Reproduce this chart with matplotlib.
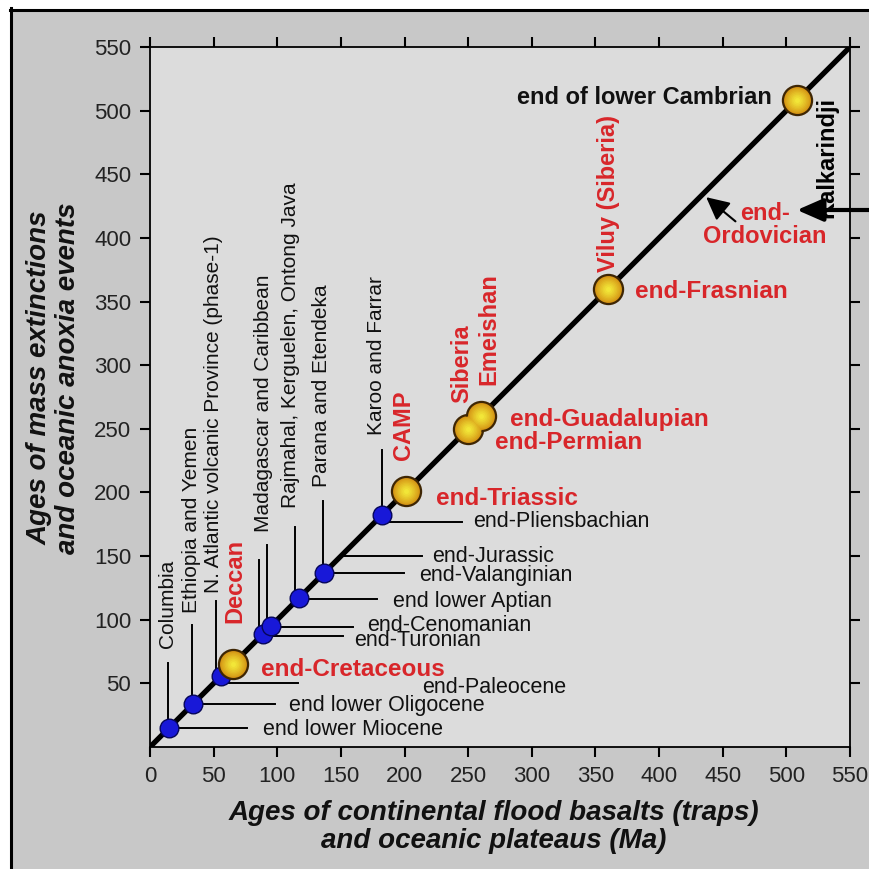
import numpy as np
import matplotlib
matplotlib.use("Agg")
import matplotlib.pyplot as plt
from matplotlib.lines import Line2D
from matplotlib.patches import Rectangle
from matplotlib.colors import to_rgb

plt.rcParams['font.family'] = ['Liberation Sans', 'DejaVu Sans']

RED = '#d8262a'

# trap ages that line up with extinction / anoxia events (Ma), blue = minor, gold = major
blue_ages = [15, 34, 56, 89, 95, 117, 137, 182]
gold_ages = [65, 201, 250, 260, 360, 508]

# flood basalt names (vertical labels)
trap_names = ['Columbia', 'Ethiopia and Yemen', 'N. Atlantic volcanic Province (phase-1)',
              'Madagascar and Caribbean', 'Rajmahal, Kerguelen, Ontong Java',
              'Parana and Etendeka', 'Karoo and Farrar']
trap_leader_from = [15, 34, 56, 89, 95, 117, 137, 182]
big_trap_names = ['Deccan', 'CAMP', 'Siberia', 'Emeishan', 'Viluy (Siberia)', 'Kalkarindji']

# extinction events (horizontal labels) and the age their leader sits at
ext_names = ['end lower Miocene', 'end lower Oligocene', 'end-Paleocene', 'end-Turonian',
             'end-Cenomanian', 'end lower Aptian', 'end-Valanginian', 'end-Jurassic',
             'end-Pliensbachian']
ext_ages = [15, 34, 50, 87, 94, 116, 137, 150, 177]
ext_from = [15, 34, 60, 89, 95, 117, 137, 150, 182]
big_ext_names = ['end-Cretaceous', 'end-Triassic', 'end-Permian', 'end-Guadalupian', 'end-Frasnian']
ordovician_age = 435

# ---- layout ----
trap_label_x = [14, 32.5, 50, 89, 110, 135, 178]
trap_label_y = [78, 105, 121, 169, 188, 204.5, 245]
leader_dx = [-1, -1, -4, -3, -3, -3, -1, 0]
leader_top = [66, 96, 115, 147, 159, 173, 193, 233]
big_trap_x = [66.8, 199, 245, 266, 360, 532]
big_trap_y = [97.4, 225.5, 270, 284.4, 373, 415.6]
big_trap_col = [RED, RED, RED, RED, RED, 'black']
ext_leader_end = [76, 98, 116, 151.6, 159.5, 178, 199.6, 213.5, 245]
ext_label_x = [89, 109.5, 213.5, 160.3, 170.5, 190.7, 211.6, 221.3, 253.8]
ext_label_y = [13.4, 33, 46.4, 84.0, 95.5, 114.7, 135, 150, 176.8]
big_ext_x = [87, 225, 271, 283, 381]
big_ext_y = [60.5, 195.6, 238.9, 257, 357.5]

fig = plt.figure(figsize=(8.7, 8.69), dpi=100)
fig.set_facecolor('#c8c8c8')
ax = fig.add_axes([150/870, 1-747/869, 700/870, 700/869])
ax.set_facecolor('#dcdcdc')
ax.set_xlim(0, 550)
ax.set_ylim(0, 550)
ax.set_xticks(np.arange(0, 551, 50))
ax.set_yticks(np.arange(50, 551, 50))
ax.tick_params(direction='out', length=7.5, width=1.5, top=True, right=True,
               labelsize=16, pad=6, labelcolor='#222222')
for sp in ax.spines.values():
    sp.set_linewidth(1.3)

# 1:1 line
ax.plot([0, 550], [0, 550], color='black', lw=3.8, zorder=3, solid_capstyle='butt')

# vertical leaders from the small points
for a, dx, top in zip(trap_leader_from, leader_dx, leader_top):
    ax.plot([a + dx, a + dx], [a, top], color='black', lw=1.4, zorder=2)
# horizontal leaders
for a0, y, x1 in zip(ext_from, ext_ages, ext_leader_end):
    ax.plot([a0, x1], [y, y], color='black', lw=1.4, zorder=2)

# points
ax.scatter(blue_ages, blue_ages, s=180, color='#1818d8', edgecolor='#06065a',
           linewidth=1.0, zorder=5)
ax.scatter(gold_ages, gold_ages, s=440, color='#c98612', edgecolor='#3e2604',
           linewidth=1.6, zorder=6)
c0 = np.array(to_rgb('#d39214'))
c1 = np.array(to_rgb('#f6f03c'))
n = 9
for k in range(1, n):
    t = k / n
    ax.scatter(gold_ages, gold_ages, s=420 * (1 - t) ** 1.6, color=c0 + (c1 - c0) * t,
               linewidth=0, zorder=6)

# vertical labels
for name, x, y in zip(trap_names, trap_label_x, trap_label_y):
    ax.text(x, y, name, rotation=90, ha='center', va='bottom', fontsize=15, color='#111111')
for name, x, y, c in zip(big_trap_names, big_trap_x, big_trap_y, big_trap_col):
    ax.text(x, y, name, rotation=90, ha='center', va='bottom', fontsize=17,
            fontweight='bold', color=c)

# horizontal labels
for name, x, y in zip(ext_names, ext_label_x, ext_label_y):
    ax.text(x, y, name, ha='left', va='center', fontsize=15.5, color='#111111')
for name, x, y in zip(big_ext_names, big_ext_x, big_ext_y):
    ax.text(x, y, name, ha='left', va='center', fontsize=17.5, fontweight='bold', color=RED)
ax.text(488.7, 510.7, 'end of lower Cambrian', ha='right', va='center', fontsize=17,
        fontweight='bold', color='#111111')
ax.text(483, 410.5, 'end-\nOrdovician', ha='center', va='center', fontsize=17,
        fontweight='bold', color=RED, linespacing=1.0)

# arrows for the Ordovician event
ax.annotate('', xy=(ordovician_age + 2, ordovician_age - 3), xytext=(460, 413),
            arrowprops=dict(arrowstyle='-|>,head_length=0.7,head_width=0.35',
                            mutation_scale=20, color='black', lw=1.5,
                            shrinkA=0, shrinkB=0), zorder=7)
ax.annotate('', xy=(797, 869 - 210), xycoords='figure pixels',
            xytext=(895, 869 - 210), textcoords='figure pixels',
            arrowprops=dict(arrowstyle='-|>,head_length=0.8,head_width=0.35',
                            mutation_scale=20, color='black', lw=3,
                            shrinkA=0, shrinkB=0), annotation_clip=False, zorder=7)

# axis titles
fig.text(54/870, 1 - 378/869, 'Ages of mass extinctions\nand oceanic anoxia events',
         rotation=90, ha='center', va='center', fontsize=20, fontweight='bold',
         style='italic', linespacing=1.15, color='#111111')
fig.text(494/870, 1 - 827/869, 'Ages of continental flood basalts (traps)\nand oceanic plateaus (Ma)',
         ha='center', va='center', fontsize=20, fontweight='bold', style='italic',
         linespacing=1.05, color='#111111')

# frame around the panel
fig.add_artist(Rectangle((0, 1 - 8/869), 1, 8/869, transform=fig.transFigure,
                         color='white', zorder=0))
fig.add_artist(Rectangle((0, 0), 10/870, 1, transform=fig.transFigure,
                         color='white', zorder=0))
fig.add_artist(Line2D([10/870, 1], [1 - 9.5/869] * 2, transform=fig.transFigure,
                      color='black', lw=2.2))
fig.add_artist(Line2D([11.5/870] * 2, [0, 1 - 8/869], transform=fig.transFigure,
                      color='black', lw=2.2))

fig.savefig('out.png', dpi=100, facecolor=fig.get_facecolor())
